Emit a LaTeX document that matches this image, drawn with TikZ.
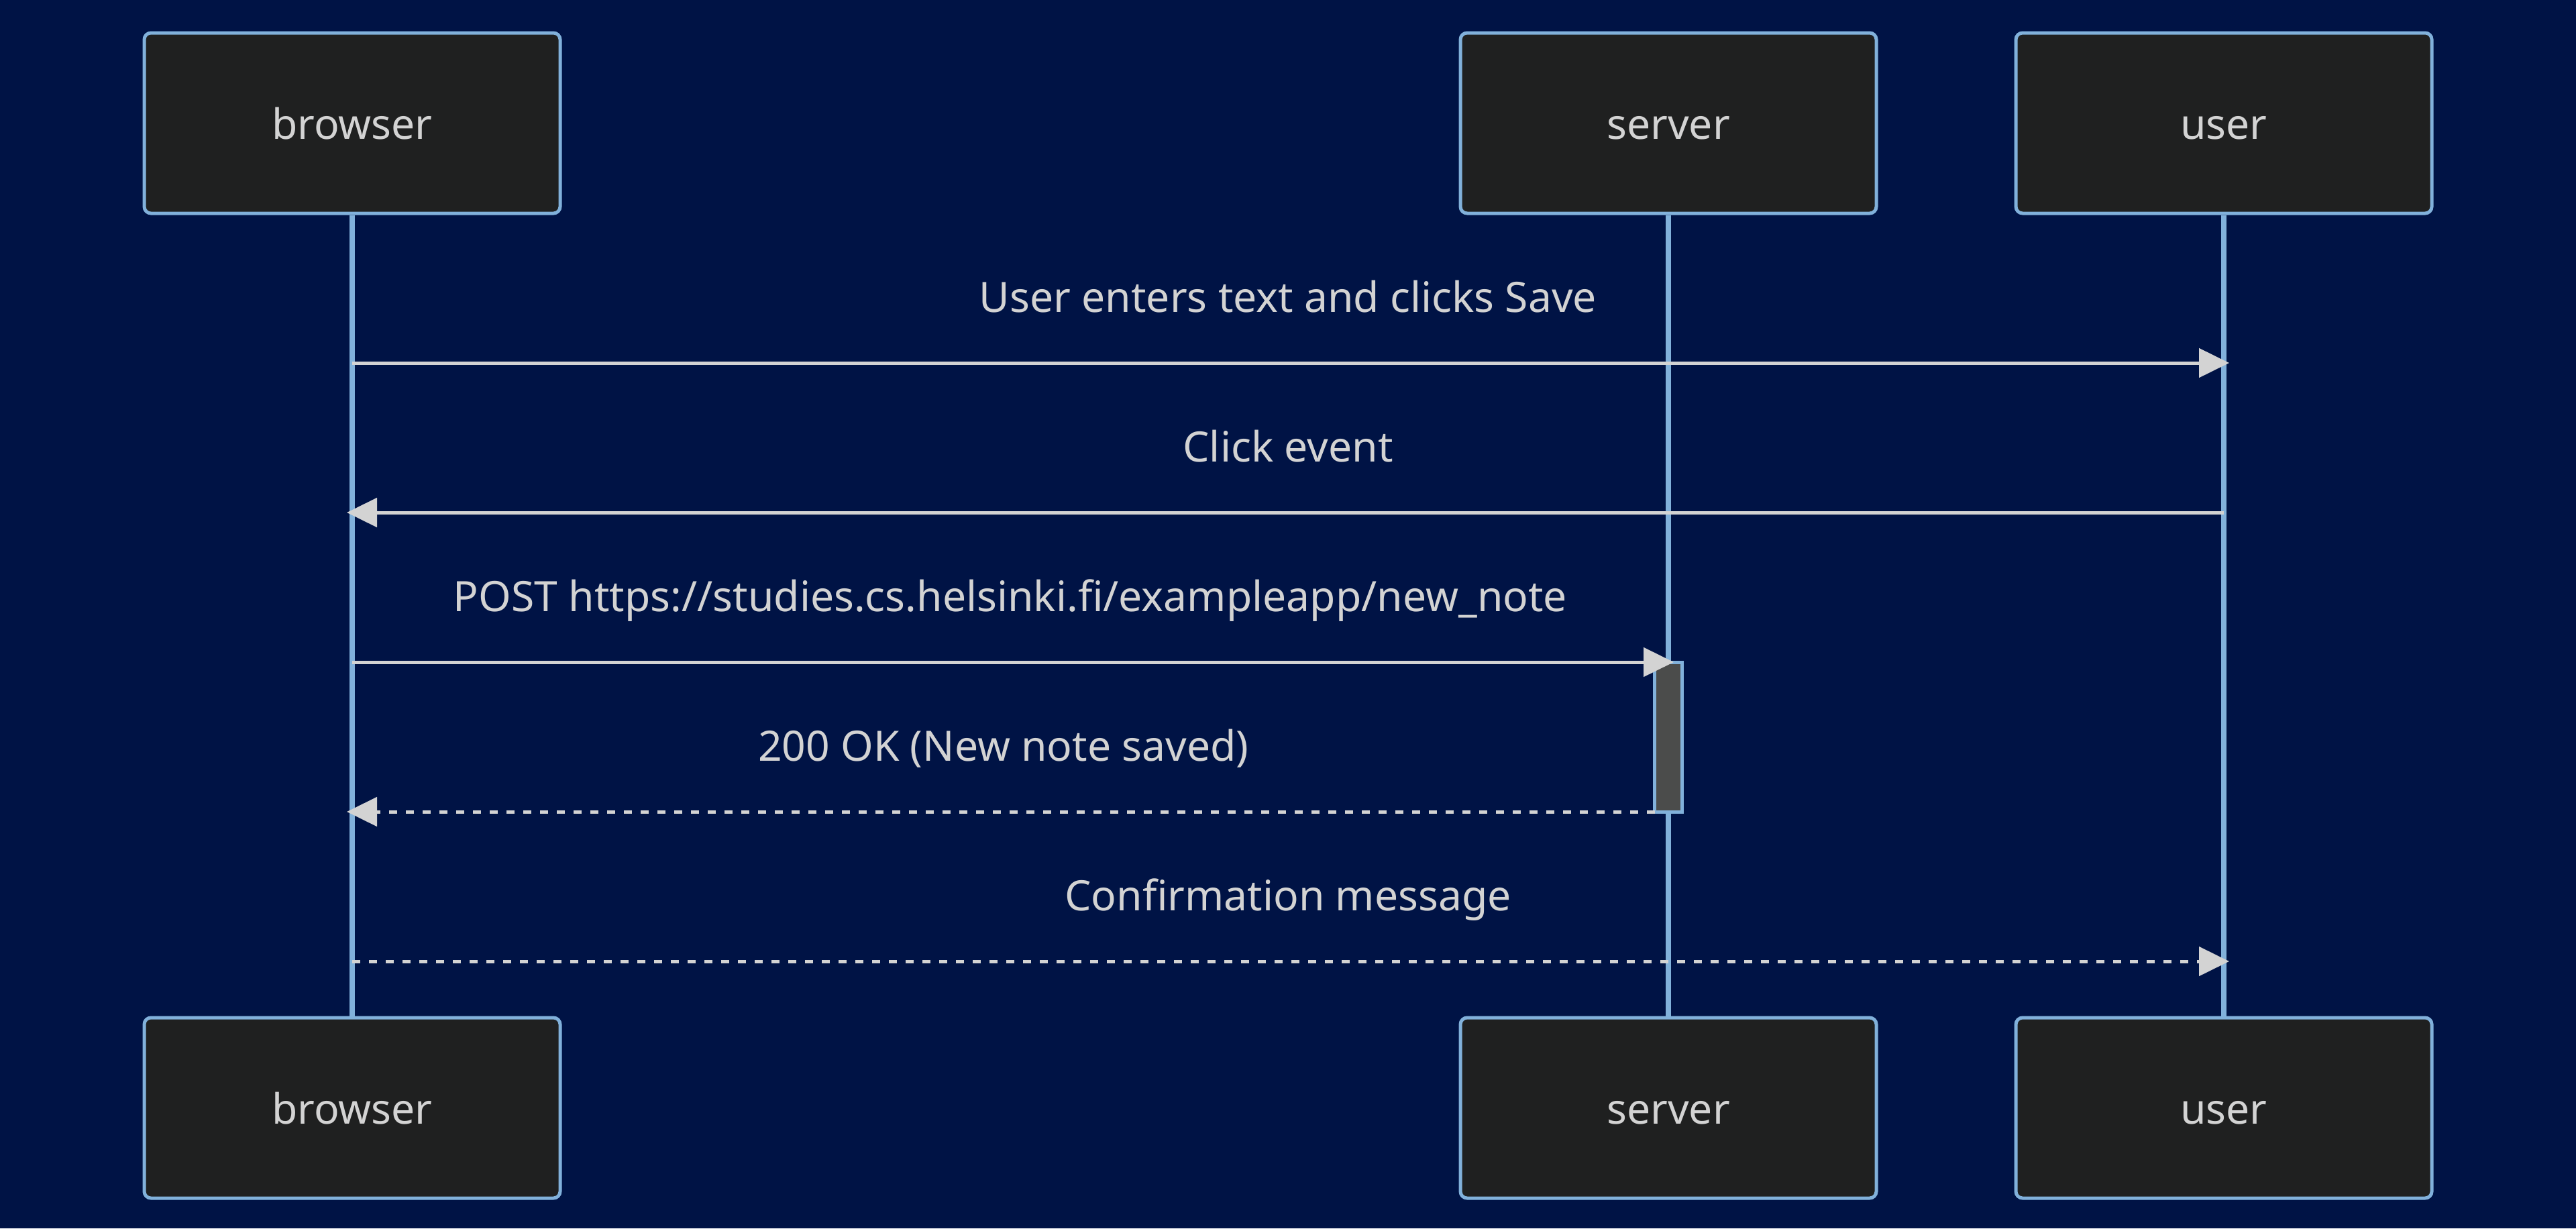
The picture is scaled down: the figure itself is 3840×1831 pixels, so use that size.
\documentclass[tikz,border=0pt]{standalone}
\usepackage{fontspec}
\setmainfont{Noto Sans}
\usetikzlibrary{arrows.meta,positioning}
\definecolor{bgnavy}{HTML}{001345}
\definecolor{actorfill}{HTML}{1F2020}
\definecolor{actorline}{HTML}{81B1DB}
\definecolor{msgtext}{HTML}{D3D3D3}
\definecolor{actfill}{HTML}{4B4C4B}
\tikzset{
  actor/.style={draw=actorline, line width=1.25pt, fill=actorfill, rounded corners=2.5pt,
    minimum width=155pt, minimum height=67.25pt, text=msgtext, font=\fontsize{15.6}{18}\selectfont,
    text height=13pt, text depth=1pt},
  lifeline/.style={draw=actorline, line width=2pt},
  msg/.style={draw=msgtext, line width=1.25pt, -{Triangle[length=11.25pt,width=10.75pt]},
    shorten >=-2pt},
  dmsg/.style={msg, dash pattern=on 3pt off 3.25pt},
  msglabel/.style={text=msgtext, font=\fontsize{15.6}{18}\selectfont, yshift=25pt,
    text height=13pt, text depth=1pt},
  activation/.style={draw=actorline, line width=1.25pt, fill=actfill, inner sep=0pt,
    outer sep=0pt, minimum width=10.25pt, minimum height=55.75pt}
}

\begin{document}
\begin{tikzpicture}[x=0.25pt, y=-0.25pt]
  \useasboundingbox[fill=bgnavy] (0,0) rectangle (3840,1831);

  % participants
  \node[actor] (browser) at (525,183.5) {browser};
  \node[actor] (server) at (2487,183.5) {server};
  \node[actor] (user) at (3315,183.5) {user};
  \node[actor] (browserb) at (525,1651.5) {browser};
  \node[actor] (serverb) at (2487,1651.5) {server};
  \node[actor] (userb) at (3315,1651.5) {user};

  \draw[lifeline] (browser) -- (browserb);
  \draw[lifeline] (server) -- (serverb);
  \draw[lifeline] (user) -- (userb);

  % message rows on the lifelines
  \foreach \r/\y in {1/541,2/764,3/987,4/1210,5/1433} {
    \coordinate (bro\r) at (browser |- 0,\y);
    \coordinate (srv\r) at (server |- 0,\y);
    \coordinate (usr\r) at (user |- 0,\y);
  }

  \node[activation, anchor=north] (act) at (srv3) {};

  \draw[msg] (bro1) -- node[msglabel] {User enters text and clicks Save} (usr1);
  \draw[msg] (usr2) -- node[msglabel] {Click event} (bro2);
  \draw[msg] (bro3) -- node[msglabel] {POST https://studies.cs.helsinki.fi/exampleapp/new\_note} (srv3);
  \draw[dmsg] (act.south west) -- node[msglabel] {200 OK (New note saved)} (bro4);
  \draw[dmsg] (bro5) -- node[msglabel] {Confirmation message} (usr5);
\end{tikzpicture}
\end{document}
